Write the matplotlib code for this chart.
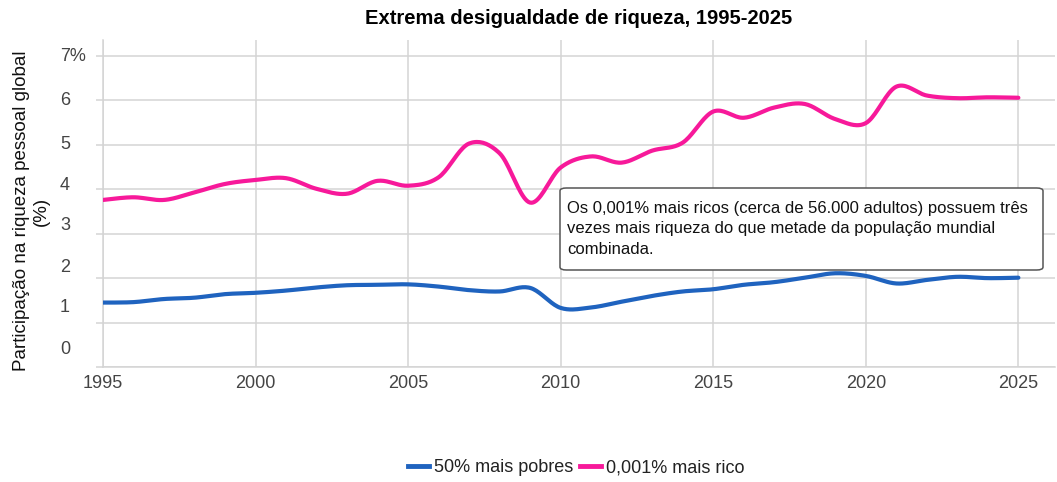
import numpy as np
import matplotlib
matplotlib.use("Agg")
import matplotlib.pyplot as plt
from matplotlib.patches import FancyBboxPatch
from matplotlib.lines import Line2D

plt.rcParams["font.family"] = ["Liberation Sans", "DejaVu Sans"]

# --- data ---
years = list(range(1995, 2026))
bottom_50 = [1.45, 1.46, 1.53, 1.56, 1.64, 1.67, 1.72, 1.79, 1.84, 1.85,
             1.86, 1.81, 1.73, 1.70, 1.78, 1.33, 1.34, 1.47, 1.60, 1.70,
             1.75, 1.85, 1.91, 2.01, 2.11, 2.05, 1.88, 1.96, 2.03, 2.00,
             2.01]
top_0001 = [3.76, 3.82, 3.76, 3.93, 4.12, 4.21, 4.25, 4.01, 3.90, 4.19,
            4.08, 4.27, 5.03, 4.81, 3.70, 4.49, 4.74, 4.60, 4.87, 5.05,
            5.75, 5.61, 5.84, 5.92, 5.58, 5.49, 6.31, 6.11, 6.05, 6.07,
            6.06]
series_labels = ["50% mais pobres", "0,001% mais rico"]
x_ticks = [1995, 2000, 2005, 2010, 2015, 2020, 2025]
y_tick_labels = ["0", "1", "2", "3", "4", "5", "6", "7%"]

title = "Extrema desigualdade de riqueza, 1995-2025"
y_label = "Participação na riqueza pessoal global\n(%)"
note = ("Os 0,001% mais ricos (cerca de 56.000 adultos) possuem três\n"
        "vezes mais riqueza do que metade da população mundial\n"
        "combinada.")

BLUE = "#1f63bf"
PINK = "#f7199a"
GRID = "#d4d4d4"


def smooth_curve(x, y, steps=20):
    """Catmull-Rom style cubic Bezier through the points."""
    x = np.asarray(x, float)
    y = np.asarray(y, float)
    px = np.concatenate([[x[0]], x, [x[-1]]])
    py = np.concatenate([[y[0]], y, [y[-1]]])
    t = np.linspace(0, 1, steps, endpoint=False)[:, None]
    xs, ys = [], []
    for i in range(1, len(px) - 2):
        p0 = np.array([px[i], py[i]])
        p3 = np.array([px[i + 1], py[i + 1]])
        c1 = p0 + (p3 - np.array([px[i - 1], py[i - 1]])) / 6
        c2 = p3 - (np.array([px[i + 2], py[i + 2]]) - p0) / 6
        pts = ((1 - t) ** 3 * p0 + 3 * (1 - t) ** 2 * t * c1
               + 3 * (1 - t) * t ** 2 * c2 + t ** 3 * p3)
        xs.append(pts[:, 0])
        ys.append(pts[:, 1])
    xs.append([x[-1]])
    ys.append([y[-1]])
    return np.concatenate(xs), np.concatenate(ys)


fig = plt.figure(figsize=(10.57, 4.82), dpi=100)
ax = fig.add_axes([0.0974, 0.2386, 0.9007, 0.6784])

for vals, color, lab in [(bottom_50, BLUE, series_labels[0]),
                         (top_0001, PINK, series_labels[1])]:
    sx, sy = smooth_curve(years, vals)
    ax.plot(sx, sy, color=color, lw=3.0, solid_capstyle="round", label=lab,
            zorder=3)

ax.set_xlim(1995, 2026.2)
ax.set_ylim(0, 7.36)

# grid
ax.set_xticks(x_ticks)
ax.set_xticklabels([str(v) for v in x_ticks])
ax.set_yticks(range(8))
ax.set_yticklabels([])
ax.grid(True, color=GRID, lw=1.1)
ax.set_axisbelow(True)
for side in ["top", "right"]:
    ax.spines[side].set_visible(False)
for side in ["left", "bottom"]:
    ax.spines[side].set_color(GRID)
    ax.spines[side].set_linewidth(1.1)

ax.tick_params(axis="x", length=0, pad=6, labelsize=13, labelcolor="#444444")
ax.tick_params(axis="y", which="major", length=5, color=GRID, width=1.1)

# y labels drift slightly from the gridlines in the reference
label_pos = [0.44, 1.38, 2.28, 3.22, 4.14, 5.06, 6.04, 7.03]
ax.set_yticks(label_pos, minor=True)
ax.set_yticklabels(y_tick_labels, minor=True)
ax.tick_params(axis="y", which="minor", length=0, pad=31, labelsize=13,
               labelcolor="#444444")
for lab in ax.get_yticklabels(minor=True):
    lab.set_horizontalalignment("left")

fig.text(31.5 / 1057, 1 - 211 / 482, y_label, rotation=90, ha="center",
         va="center", multialignment="center", fontsize=13.5, color="#111111")

fig.text(579 / 1057, 1 - 18 / 482, title, ha="center", va="center",
         fontsize=14.5, fontweight="bold", color="#000000")

# annotation box
box = FancyBboxPatch((560 / 1057, 1 - 270 / 482), 483 / 1057, 82 / 482,
                     boxstyle="round,pad=0,rounding_size=0.006",
                     transform=fig.transFigure, facecolor="white",
                     edgecolor="#555555", lw=1.1, zorder=5)
fig.patches.append(box)
fig.text(567 / 1057, 1 - 229 / 482, note, ha="left", va="center",
         fontsize=12, linespacing=1.5, color="#111111", zorder=6)

handles = [Line2D([], [], color=BLUE, lw=3.5),
           Line2D([], [], color=PINK, lw=3.5)]
fig.legend(handles, series_labels, loc="center", ncol=2,
           bbox_to_anchor=(576 / 1057, 1 - 468 / 482), frameon=False,
           fontsize=13, handlelength=1.2, handletextpad=0.25,
           columnspacing=0.35, labelcolor="#222222")

fig.savefig("out.png", dpi=100)
